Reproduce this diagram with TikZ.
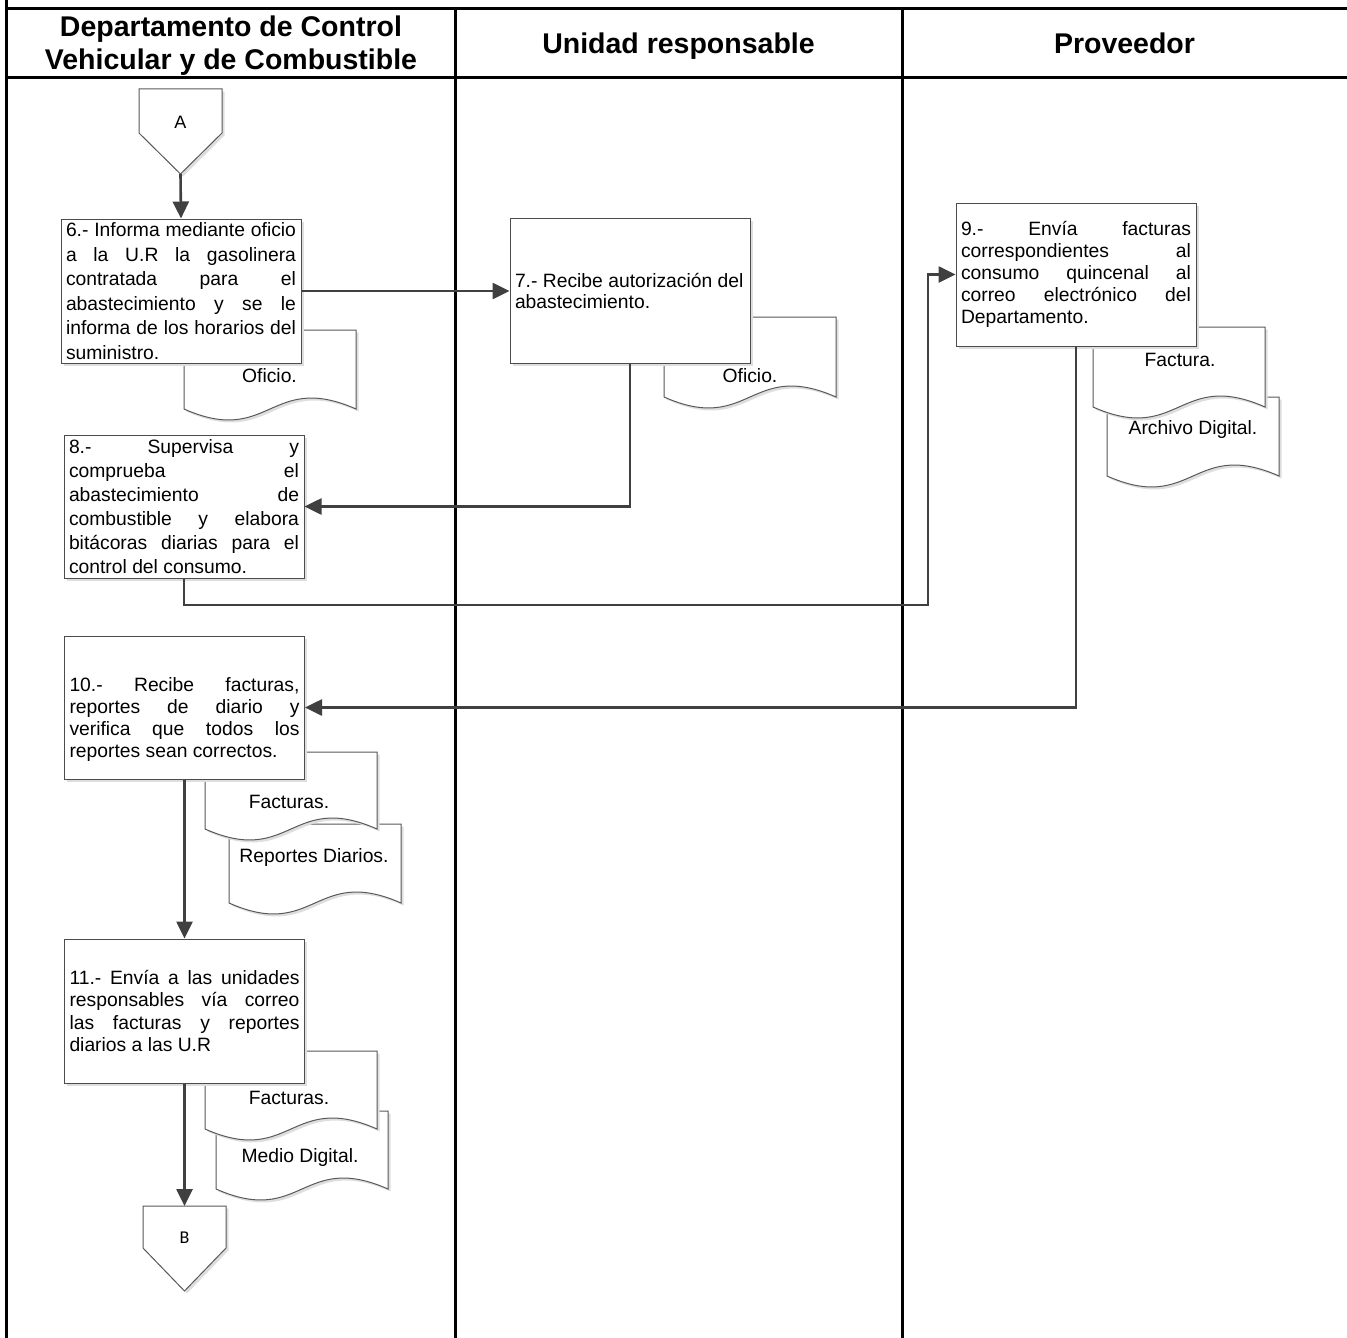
\documentclass[tikz,border=0pt]{standalone}
\usepackage{fontspec}
\setmainfont{Liberation Sans}
\newfontfamily\calibfont{Carlito}
\usetikzlibrary{arrows.meta,shadows,calc}
\setlength\parindent{0pt}
\newcommand\rs{\spaceskip=0pt \xspaceskip=0pt\relax}
\newcommand\jl[1]{\makebox[\hsize][s]{\rs #1}}
\newcommand\docshape[7]{%
  \path[docstyle] (#2,#3) -- (#2,#4) .. controls ({#2+86},{#4+38}) and ({#2+86},{#4-38}) .. ({#2+172},#4) -- ({#2+172},#3) -- cycle;
  \node[doctext] (#1) at (#5,#6) {#7};}
\tikzset{
  lane/.style={draw=black, line width=3pt},
  hdr/.style={font=\bfseries\fontsize{28.5pt}{33pt}\selectfont, align=center, inner sep=0pt},
  shad/.style={drop shadow={shadow xshift=2.5pt, shadow yshift=-2.5pt, opacity=1, fill=black!13}},
  procbox/.style={draw=black!70, line width=1pt, fill=white, rectangle, inner xsep=5pt, inner ysep=0pt,
    text width=230pt, align=left, shad},
  docstyle/.style={draw=black!65, line width=1pt, fill=white, shad},
  doctext/.style={font=\fontsize{19.3pt}{22pt}\selectfont, inner sep=0pt},
  offpage/.style={draw=black!65, line width=1pt, fill=white, shad},
  conn/.style={draw=black!75, line width=2.6pt, -{Triangle[length=17pt,width=16pt]}},
}
\begin{document}
\begin{tikzpicture}[x=1pt,y=-1pt]
\useasboundingbox (0,0) rectangle (1347,1338);
% lanes
\draw[lane] (6.5,0) -- (6.5,1338);
\draw[lane] (6.5,9) -- (1347,9);
\draw[lane] (6.5,77.5) -- (1347,77.5);
\draw[lane] (455,9) -- (455,1338);
\draw[lane] (902,9) -- (902,1338);
% headers
\node[hdr] (h1) at (231,45.5) {Departamento de Control\\Vehicular y de Combustible};
\node[hdr, anchor=base] (h2) at (678.5,54) {Unidad responsable};
\node[hdr, anchor=base] (h3) at (1124.5,54) {Proveedor};
% off-page connector A
\path[offpage] (139,89) -- (222,89) -- (222,133) -- (180.5,174) -- (139,133) -- cycle;
\node[font=\fontsize{18pt}{20pt}\selectfont, inner sep=0pt] (A) at (180.5,122) {A};
\coordinate (Atip) at (180.5,174);
% documents (behind boxes)
\docshape{d6}{184}{330}{409}{269.5}{376}{Oficio.}
\docshape{d7}{664}{317}{397}{750}{376}{Oficio.}
\docshape{d9b}{1107}{397}{476}{1193}{430}{Archivo Digital.}
\docshape{d9a}{1093}{327}{407}{1180}{360}{Factura.}
\docshape{d10b}{229}{824}{903}{314}{858}{Reportes Diarios.}
\docshape{d10a}{205}{752}{829}{289}{802}{Facturas.}
\docshape{d11b}{216}{1111}{1189}{300}{1157}{Medio Digital.}
\docshape{d11a}{205}{1051}{1129}{289}{1098}{Facturas.}
% process boxes
\node[procbox, minimum height=144pt, font=\fontsize{19.3pt}{24.5pt}\selectfont] (b6) at (181,291)
 {\rs\jl{6.- Informa mediante oficio}\\\jl{a la U.R la gasolinera}\\\jl{contratada para el}\\\jl{abastecimiento y se le}\\\jl{informa de los horarios del}\\\rs suministro.};
\node[procbox, minimum height=145pt, font=\fontsize{19.3pt}{21pt}\selectfont] (b7) at (630,290.5)
 {\rs 7.- Recibe autorización del\\\rs abastecimiento.};
\node[procbox, minimum height=143pt, font=\fontsize{19.3pt}{24.1pt}\selectfont] (b8) at (184,506.5)
 {\rs\jl{8.- Supervisa y}\\\jl{comprueba el}\\\jl{abastecimiento de}\\\jl{combustible y elabora}\\\jl{bitácoras diarias para el}\\\rs control del consumo.};
\node[procbox, minimum height=143pt, font=\fontsize{19.3pt}{22pt}\selectfont] (b9) at (1076,274.5)
 {\rs\jl{9.- Envía facturas}\\\jl{correspondientes al}\\\jl{consumo quincenal al}\\\jl{correo electrónico del}\\\rs Departamento.};
\node[procbox, minimum height=143pt, font=\fontsize{19.3pt}{22.3pt}\selectfont] (b10) at (184.5,707.5)
 {\strut\\\jl{10.- Recibe facturas,}\\\jl{reportes de diario y}\\\jl{verifica que todos los}\\\rs reportes sean correctos.};
\node[procbox, minimum height=144pt, font=\fontsize{19.3pt}{22.3pt}\selectfont] (b11) at (184.5,1011)
 {\rs\jl{11.- Envía a las unidades}\\\jl{responsables vía correo}\\\jl{las facturas y reportes}\\\rs diarios a las U.R};
% off-page connector B
\path[offpage] (143,1206) -- (226,1206) -- (226,1248) -- (184.5,1291) -- (143,1248) -- cycle;
\node[font=\calibfont\fontsize{18pt}{20pt}\selectfont, inner sep=0pt] (B) at (184.5,1238) {B};
\coordinate (Btop) at (184.5,1206);
% connectors
\draw[conn] (Atip) -- (b6.north);
\draw[conn] (b6.east) -- (b6.east -| b7.west);
\draw[conn] (b7.south) |- (b8.east);
\coordinate (c1) at (928,605);
\draw[conn] (b8.south) |- (c1) |- (b9.west);
\draw[conn] (b9.south) |- (b10.east);
\draw[conn] (b10.south) -- (b11.north);
\draw[conn] (b11.south) -- (Btop);
\end{tikzpicture}
\end{document}
